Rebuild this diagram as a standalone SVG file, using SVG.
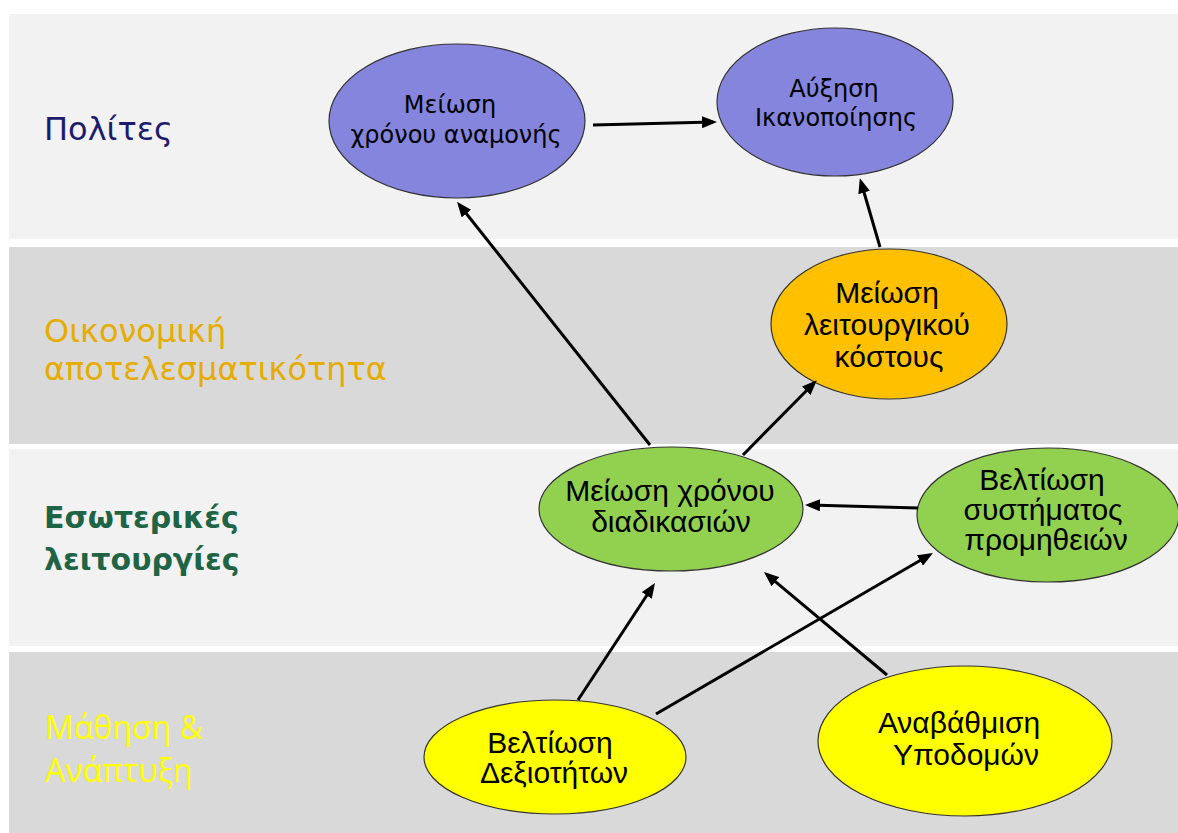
<svg xmlns="http://www.w3.org/2000/svg" width="1178" height="833" viewBox="0 0 1178 833">
<style>
.bandL{fill:#f2f2f2}
.bandD{fill:#d9d9d9}
.lbl{font-family:"DejaVu Sans",Verdana,sans-serif;font-size:32px}
.node{stroke:#333;stroke-width:1.2}
.t1{font-family:"DejaVu Sans",Verdana,sans-serif;font-size:24px;fill:#000;text-anchor:middle}
.t2{font-family:"Liberation Sans",Arial,sans-serif;font-size:30px;fill:#000;text-anchor:middle}
.con line{stroke:#000;stroke-width:3;marker-end:url(#ah)}
</style>
<defs>
<marker id="ah" markerUnits="userSpaceOnUse" markerWidth="16" markerHeight="12" viewBox="0 0 16 12" refX="11" refY="6" orient="auto">
<path d="M0,0 L15,6 L0,12 z" fill="#000"/>
</marker>
</defs>
<rect width="1178" height="833" fill="#fff"/>
<g id="bands">
<rect class="bandL" x="9" y="14" width="1169" height="225"/>
<rect class="bandD" x="9" y="247" width="1169" height="197"/>
<rect class="bandL" x="9" y="449" width="1169" height="197"/>
<rect class="bandD" x="9" y="652" width="1169" height="181"/>
</g>
<g id="labels">
<text class="lbl" x="44" y="140" fill="#1c1c6e">Πολίτες</text>
<text class="lbl" x="44" y="342" fill="#e6ac00">Οικονομική</text>
<text class="lbl" x="44" y="380" fill="#e6ac00">αποτελεσματικότητα</text>
<text class="lbl" x="44" y="528" fill="#1e6445" style="font-weight:bold;font-size:30px">Εσωτερικές</text>
<text class="lbl" x="44" y="570" fill="#1e6445" style="font-weight:bold;font-size:30px">λειτουργίες</text>
<text x="45" y="739" fill="#ffff00" style="font-family:'Open Sans',sans-serif;font-size:32px">Μάθηση &amp;</text>
<text x="45" y="782" fill="#ffff00" style="font-family:'Open Sans',sans-serif;font-size:32px">Ανάπτυξη</text>
</g>
<g id="node-meiosi-anamonis">
<ellipse class="node" cx="457" cy="121" rx="128" ry="77" fill="#8585de"/>
<text class="t1" x="450" y="113">Μείωση</text>
<text class="t1" x="456" y="143">χρόνου αναμονής</text>
</g>
<g id="node-auxisi">
<ellipse class="node" cx="835" cy="102" rx="118" ry="74" fill="#8585de"/>
<text class="t1" x="834" y="97">Αύξηση</text>
<text class="t1" x="836" y="126">Ικανοποίησης</text>
</g>
<g id="node-kostos">
<ellipse class="node" cx="889" cy="324" rx="118" ry="75" fill="#ffc000"/>
<text class="t2" x="887" y="303">Μείωση</text>
<text class="t2" x="887" y="335">λειτουργικού</text>
<text class="t2" x="889" y="367">κόστους</text>
</g>
<g id="node-diadikasion">
<ellipse class="node" cx="671" cy="509" rx="132" ry="62" fill="#92d050"/>
<text class="t2" x="670" y="501">Μείωση χρόνου</text>
<text class="t2" x="671" y="532">διαδικασιών</text>
</g>
<g id="node-promitheion">
<ellipse class="node" cx="1048" cy="515" rx="131" ry="67" fill="#92d050"/>
<text class="t2" x="1042" y="490">Βελτίωση</text>
<text class="t2" x="1043" y="520">συστήματος</text>
<text class="t2" x="1046" y="550">προμηθειών</text>
</g>
<g id="node-dexiotiton">
<ellipse class="node" cx="555" cy="757" rx="131" ry="57" fill="#ffff00"/>
<text class="t2" x="550" y="753">Βελτίωση</text>
<text class="t2" x="554" y="783">Δεξιοτήτων</text>
</g>
<g id="node-ypodomon">
<ellipse class="node" cx="965" cy="741" rx="147" ry="75" fill="#ffff00"/>
<text class="t2" x="959" y="733">Αναβάθμιση</text>
<text class="t2" x="966" y="765">Υποδομών</text>
</g>
<g id="connectors" class="con">
<line x1="593" y1="125" x2="713" y2="122"/>
<line x1="650" y1="445" x2="459.5" y2="205"/>
<line x1="880" y1="247" x2="861" y2="182"/>
<line x1="743" y1="455" x2="814" y2="383"/>
<line x1="918" y1="508" x2="809" y2="505"/>
<line x1="578" y1="700" x2="652.8" y2="586.3"/>
<line x1="656" y1="714" x2="929.5" y2="555"/>
<line x1="887" y1="675" x2="767" y2="574.6"/>
</g>
</svg>
